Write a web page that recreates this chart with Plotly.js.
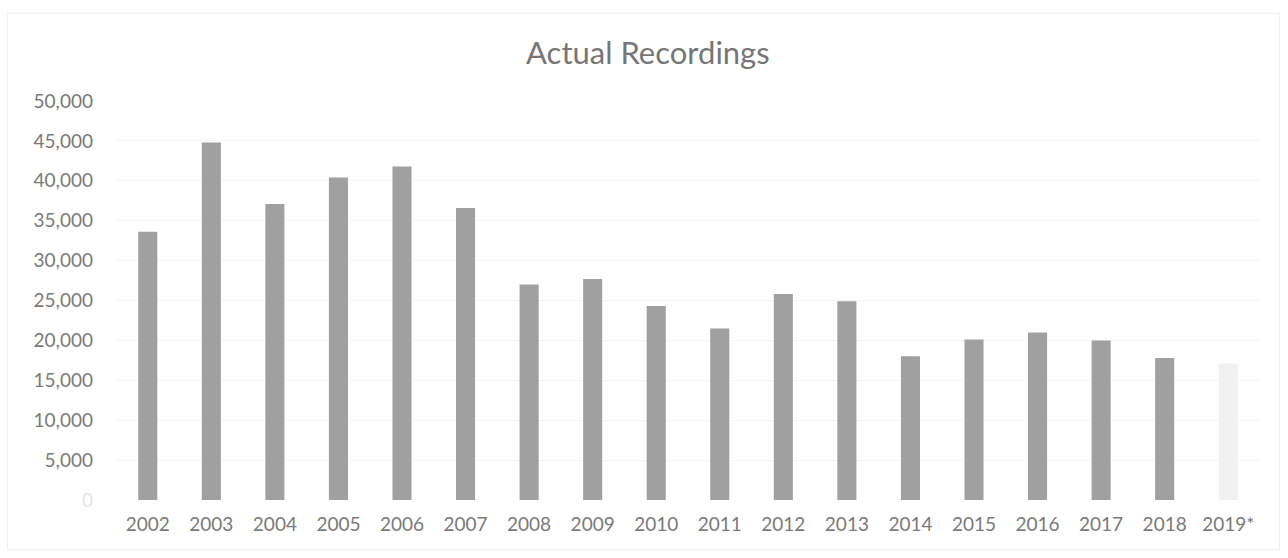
<!DOCTYPE html>
<html>
<head>
<meta charset="utf-8">
<script src="https://cdn.plot.ly/plotly-3.0.1.min.js"></script>
<style>
  html, body { margin: 0; padding: 0; background: #ffffff; }
  #chart { width: 1288px; height: 558px; }
</style>
</head>
<body>
<div id="chart"></div>
<script>
// Yearly recordings; the last year is a partial estimate (marked with *)
const years = ["2002", "2003", "2004", "2005", "2006", "2007", "2008", "2009", "2010",
               "2011", "2012", "2013", "2014", "2015", "2016", "2017", "2018", "2019*"];
const recordings = [33600, 44800, 37100, 40400, 41800, 36600, 27000, 27700, 24300,
                    21500, 25800, 24900, 18000, 20100, 21000, 20000, 17800, 17100];
const barColors = years.map(y => y.endsWith("*") ? "#f1f1f1" : "#a0a0a0");

const yTickVals = [0, 5000, 10000, 15000, 20000, 25000, 30000, 35000, 40000, 45000, 50000];
const yTickText = yTickVals.map(v => v === 0
  ? "<span style='color:#e6e6e6'>0</span>"
  : v.toLocaleString("en-US"));

const trace = {
  type: "bar",
  x: years,
  y: recordings,
  width: 0.3,
  marker: { color: barColors, line: { width: 0 } },
  hoverinfo: "x+y"
};

const layout = {
  width: 1288,
  height: 558,
  margin: { l: 116, r: 28, t: 101, b: 58 },
  paper_bgcolor: "#ffffff",
  plot_bgcolor: "#ffffff",
  showlegend: false,
  font: { family: "Lato, 'Open Sans', sans-serif", color: "#7a7a7a" },
  title: {
    text: "Actual Recordings",
    font: { family: "Lato, 'Open Sans', sans-serif", size: 31, color: "#767676" },
    x: 0.503,
    xanchor: "center",
    y: 0.905,
    yanchor: "middle"
  },
  xaxis: {
    type: "category",
    range: [-0.5, 17.5],
    showgrid: false,
    zeroline: false,
    showline: false,
    ticks: "",
    tickfont: { size: 19, color: "#7a7a7a" },
    ticklabelstandoff: 11,
    fixedrange: true
  },
  yaxis: {
    range: [0, 50000],
    tickvals: yTickVals,
    ticktext: yTickText,
    showgrid: true,
    gridcolor: "#f4f4f4",
    gridwidth: 1,
    zeroline: false,
    showline: false,
    ticks: "",
    tickfont: { size: 19, color: "#7a7a7a" },
    ticklabelstandoff: 22,
    fixedrange: true
  },
  shapes: [{
    type: "rect",
    xref: "paper", yref: "paper",
    x0: -0.095, x1: 1.017, y0: -0.125, y1: 1.22,
    line: { color: "#eeeeee", width: 1 },
    fillcolor: "rgba(0,0,0,0)"
  }]
};

Plotly.newPlot("chart", [trace], layout, { displayModeBar: false, staticPlot: true });
</script>
</body>
</html>
